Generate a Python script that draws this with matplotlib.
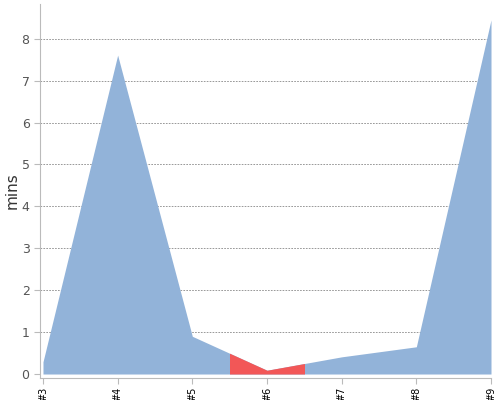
import numpy as np
import matplotlib
matplotlib.use("Agg")
import matplotlib.pyplot as plt
from matplotlib.patches import Rectangle

# build labels and durations (mins)
labels = ["#3", "#4", "#5", "#6", "#7", "#8", "#9"]
mins = [0.29, 7.61, 0.9, 0.09, 0.41, 0.65, 8.45]
highlight = 3  # the run shown in red

blue = "#92b3d9"
red = "#f25757"

x = np.arange(len(labels))

fig = plt.figure(figsize=(5, 4), dpi=100)
ax = fig.add_axes([0.08, 0.055, 0.902, 0.935])

ax.fill_between(x, mins, 0, color=blue, linewidth=0)
hl = ax.fill_between(x, mins, 0, color=red, linewidth=0)
clip = Rectangle((highlight - 0.5, -1), 1, 20, transform=ax.transData)
hl.set_clip_path(clip)

ax.set_xlim(-0.04, len(labels) - 1)
ax.set_ylim(-0.095, 8.83)
ax.set_xticks(x)
ax.set_xticklabels(labels, rotation=90, fontsize=7)
ax.set_yticks(range(0, 9))
ax.tick_params(axis="y", labelsize=9, labelcolor="#555555", length=4, color="#bbbbbb")
ax.tick_params(axis="x", length=4, color="#bbbbbb", pad=2)

for v in range(1, 9):
    ax.axhline(v, color="#888888", linestyle=(0, (2, 1.5)), linewidth=0.6, zorder=0)

for s in ["top", "right"]:
    ax.spines[s].set_visible(False)
for s in ["left", "bottom"]:
    ax.spines[s].set_color("#bbbbbb")

ax.set_ylabel("mins", fontsize=11, color="#333333")
ax.yaxis.set_label_coords(-0.045, 0.5)

plt.savefig("out.png")
